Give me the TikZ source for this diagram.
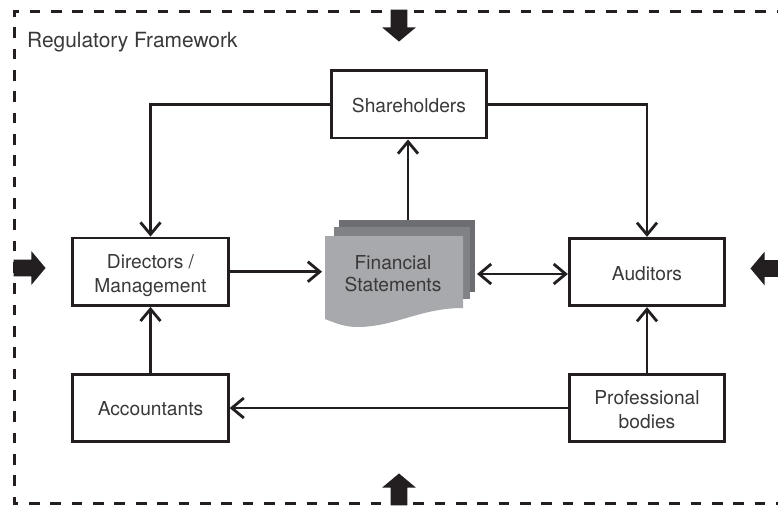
\documentclass[tikz,border=0pt]{standalone}
\usepackage{fontspec}
\setmainfont{TeX Gyre Heros}
\usetikzlibrary{shapes.arrows, arrows.meta}
\definecolor{inkdark}{HTML}{231F20}
\definecolor{textgrey}{HTML}{3A3839}
\definecolor{sheetback}{HTML}{6D6E71}
\definecolor{sheetmid}{HTML}{808285}
\definecolor{sheetfront}{HTML}{A7A9AC}
\newcommand{\textdrop}[1]{\rule{0pt}{#1}}
\tikzset{
    party/.style={draw=inkdark, line width=2.8pt, fill=white, minimum width=155.5pt, minimum height=67.5pt,
        inner sep=0pt, align=center, text=textgrey, font=\fontsize{19.2}{24}\selectfont},
    link/.style={draw=inkdark, line width=2.8pt},
    pressure/.style={single arrow, fill=inkdark, inner sep=0pt, text width=18pt, text height=16.5pt, text depth=0pt,
        minimum height=32pt, single arrow head extend=8.5pt, single arrow tip angle=100},
}

\begin{document}
\begin{tikzpicture}[x=1pt, y=-1pt, >={Straight Barb[length=12pt, width=20pt]}]
        \useasboundingbox (0,0) rectangle (778,506);

        % Dashed frame, open at the right
        \draw[inkdark, line width=3pt, dash pattern=on 10.67pt off 10.67pt, dash phase=9.27pt]
            (778,11) -- (14,11) -- (14,503) -- (778,503);
        \node[anchor=west, inner sep=0pt, text=textgrey, font=\fontsize{20.9}{24}\selectfont] (framework) at (27,42) {Regulatory Framework};

        % Outside arrows
        \node[pressure, rotate=-90] (fromtop) at (399,22) {};
        \node[pressure, rotate=90] (frombottom) at (399,493) {};
        \node[pressure] (fromleft) at (26,268) {};
        \node[pressure, rotate=180] (fromright) at (770,268.5) {};

        % Stack of sheets
        \fill[sheetback] (339,220) rectangle (475,292);
        \fill[sheetmid] (334,227) rectangle (470,299);
        \fill[sheetfront] (325,236) -- (463,236) -- (463,308)
            .. controls (420,308) and (395,327) .. (357,327)
            .. controls (345,327) and (335,323) .. (325,319) -- cycle;
        \node[align=center, inner sep=0pt, text=textgrey, font=\fontsize{19.2}{22}\selectfont] (statements) at (393,274) {Financial\\Statements};
        \coordinate (sheetsw) at (322,271.7);
        \coordinate (sheetse) at (477,274);
        \coordinate (sheetsn) at (408,220);

        % Boxes
        \node[party] (shareholders) at (409,104.3) {\textdrop{16pt}Shareholders};
        \node[party] (directors) at (150.5,271.7) {\textdrop{21pt}Directors /\\Management};
        \node[party] (auditors) at (647,272) {\textdrop{17pt}Auditors};
        \node[party] (accountants) at (150.5,408) {\textdrop{16pt}Accountants};
        \node[party] (bodies) at (647,408) {\textdrop{17pt}Professional\\bodies};

        % Connectors
        \draw[link, ->] (shareholders.west) -| (directors.north);
        \draw[link, ->] (shareholders.east) -| (auditors.north);
        \draw[link, ->] (sheetsn) -- (sheetsn |- shareholders.south);
        \draw[link, ->] (directors.east) -- (sheetsw);
        \draw[link, <->] (sheetse) -- (sheetse -| auditors.west);
        \draw[link, ->] (accountants.north) -- (directors.south);
        \draw[link, ->] (bodies.north) -- (auditors.south);
        \draw[link, ->] (bodies.west) -- (accountants.east);
    \end{tikzpicture}
\end{document}
